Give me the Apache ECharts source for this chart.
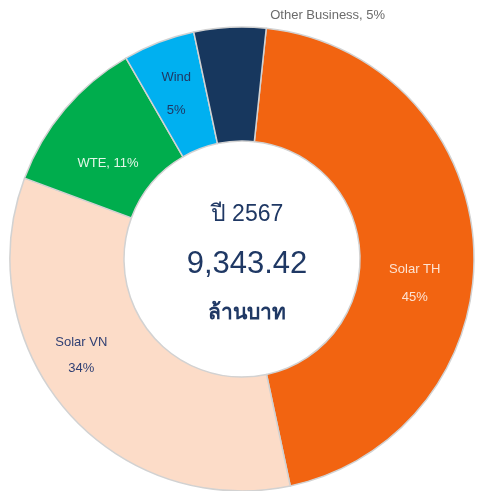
<!DOCTYPE html>
<html>
<head>
    <meta charset="UTF-8">
    <title>รายได้ ปี 2567</title>
    <script src="https://cdn.jsdelivr.net/npm/echarts@6/dist/echarts.min.js"></script>
    <style>
        body { margin: 0; background: #fff; }
        #main { width: 481px; height: 491px; }
    </style>
</head>
<body>
    <div id="main"></div>
    <script>
        // data
        var names = ['Solar TH', 'Solar VN', 'WTE', 'Wind', 'Other Business'];
        var shares = [45, 34, 11, 5, 5];
        var colors = ['#f26411', '#fcdcc8', '#00ad4d', '#00b0f0', '#17375e'];
        var yearLabel = 'ปี 2567';
        var totalLabel = '9,343.42';
        var unitLabel = 'ล้านบาท';

        // label nudges so they sit where the original put them
        var labelShift = [[-5, 34], [-26, -20], [2, 19], [-2, 1], [95, -66]];

        var chartDom = document.getElementById('main');
        var myChart = echarts.init(chartDom);

        var labelStyles = [
            { formatter: '{b}\n{c}%', color: '#fde3d3', lineHeight: 28 },
            { formatter: '{b}\n{c}%', color: '#2f3f73', lineHeight: 26 },
            { formatter: '{b}, {c}%', color: '#e4f6e8', lineHeight: 16 },
            { formatter: '{b}\n{c}%', color: '#1f3864', lineHeight: 33 },
            { formatter: '{b}, {c}%', color: '#6b6b6b', lineHeight: 16 }
        ];

        var pieData = names.map(function (n, i) {
            return {
                name: n,
                value: shares[i],
                itemStyle: { color: colors[i] },
                label: labelStyles[i]
            };
        });

        var font = 'Liberation Sans, Noto Sans, sans-serif';

        var option = {
            animation: false,
            title: {
                text: '{a|' + yearLabel + '}\n{b|' + totalLabel + '}\n{c|' + unitLabel + '}',
                left: 242,
                top: 186,
                textAlign: 'center',
                textStyle: {
                    rich: {
                        a: { fontSize: 23, color: '#1f3864', lineHeight: 48, fontWeight: 'normal', fontFamily: font },
                        b: { fontSize: 31, color: '#1f3864', lineHeight: 50, fontWeight: 'normal', fontFamily: font },
                        c: { fontSize: 21, color: '#1f3864', lineHeight: 48, fontWeight: 'bold', fontFamily: font }
                    }
                }
            },
            series: [
                {
                    type: 'pie',
                    center: [242, 259],
                    radius: [118, 232],
                    startAngle: 84,
                    clockwise: true,
                    avoidLabelOverlap: false,
                    itemStyle: {
                        borderColor: '#d2d2d2',
                        borderWidth: 1.5
                    },
                    label: {
                        show: true,
                        position: 'inside',
                        fontSize: 13,
                        fontFamily: 'Liberation Sans, Arial, sans-serif'
                    },
                    labelLine: { show: false },
                    labelLayout: function (params) {
                        var s = labelShift[params.dataIndex];
                        return { dx: s[0], dy: s[1] };
                    },
                    data: pieData
                }
            ]
        };

        option && myChart.setOption(option);
    </script>
</body>
</html>
